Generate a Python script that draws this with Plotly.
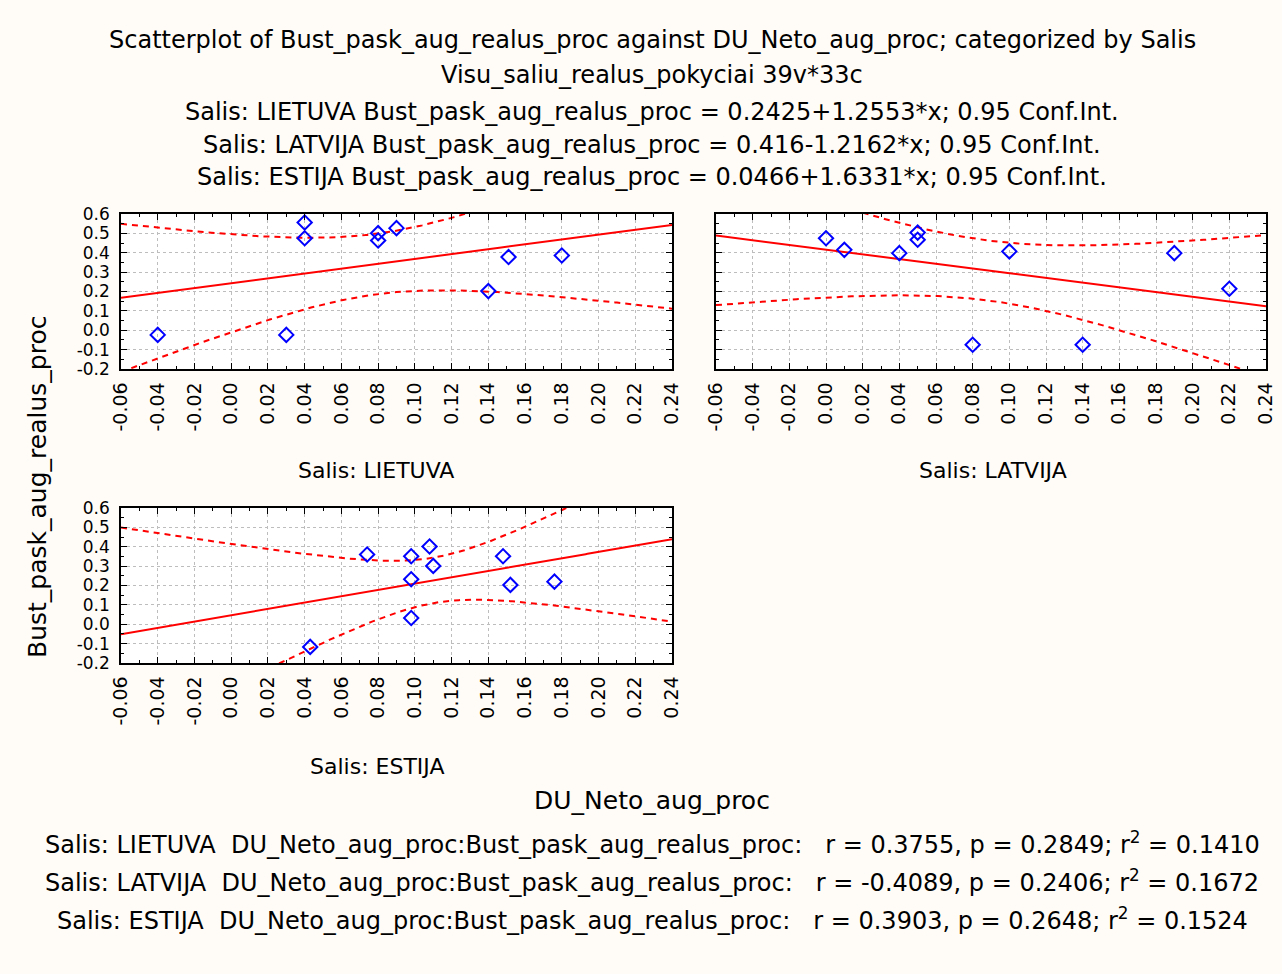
import numpy as np
import plotly.graph_objects as go

W, H = 1282, 974

# ---- data ----
countries = ["LIETUVA", "LATVIJA", "ESTIJA"]
lt_x = [-0.04, 0.03, 0.04, 0.04, 0.08, 0.08, 0.09, 0.14, 0.151, 0.18]
lt_y = [-0.024, -0.024, 0.556, 0.475, 0.501, 0.463, 0.527, 0.202, 0.378, 0.386]
lv_x = [0.00, 0.01, 0.04, 0.05, 0.05, 0.08, 0.10, 0.14, 0.19, 0.22]
lv_y = [0.475, 0.415, 0.398, 0.504, 0.467, -0.075, 0.407, -0.075, 0.398, 0.214]
ee_x = [0.043, 0.074, 0.098, 0.108, 0.110, 0.098, 0.098, 0.148, 0.152, 0.176]
ee_y = [-0.117, 0.360, 0.351, 0.401, 0.301, 0.232, 0.032, 0.351, 0.203, 0.220]
intercepts = [0.2425, 0.416, 0.0466]
slopes = [1.2553, -1.2162, 1.6331]
r_vals = ["0.3755", "-0.4089", "0.3903"]
p_vals = ["0.2849", "0.2406", "0.2648"]
r2_vals = ["0.1410", "0.1672", "0.1524"]
T_CRIT = 2.306  # t(0.975, df=8)

xs_all = [lt_x, lv_x, ee_x]
ys_all = [lt_y, lv_y, ee_y]

XR = [-0.06, 0.24]
YR = [-0.2, 0.6]
x_ticks = [round(-0.06 + 0.02 * i, 2) for i in range(16)]
y_ticks = [round(-0.2 + 0.1 * i, 1) for i in range(9)]

FONT = "DejaVu Sans"
BG = "#FFFCF7"

# panel pixel boxes (left, right, top, bottom)
boxes = [(121, 672, 214, 369), (716, 1266, 214, 369), (121, 672, 508, 663)]

fig = go.Figure()

for i in range(3):
    xs = np.array(xs_all[i]); ys = np.array(ys_all[i])
    a, b = intercepts[i], slopes[i]
    n = len(xs)
    resid = ys - (a + b * xs)
    s = np.sqrt(np.sum(resid ** 2) / (n - 2))
    xbar = xs.mean()
    sxx = np.sum((xs - xbar) ** 2)
    gx = np.linspace(XR[0], XR[1], 301)
    fit = a + b * gx
    hw = T_CRIT * s * np.sqrt(1.0 / n + (gx - xbar) ** 2 / sxx)
    xa = "x" if i == 0 else f"x{i+1}"
    ya = "y" if i == 0 else f"y{i+1}"
    fig.add_trace(go.Scatter(x=gx, y=fit, mode="lines", line=dict(color="#FF0000", width=2),
                             xaxis=xa, yaxis=ya, showlegend=False, hoverinfo="skip"))
    for band in (fit + hw, fit - hw):
        fig.add_trace(go.Scatter(x=gx, y=band, mode="lines",
                                 line=dict(color="#FF0000", width=2, dash="6px,5px"),
                                 xaxis=xa, yaxis=ya, showlegend=False, hoverinfo="skip"))
    fig.add_trace(go.Scatter(x=xs, y=ys, mode="markers",
                             marker=dict(symbol="diamond-open", size=11, color="#0000FF",
                                         line=dict(width=2, color="#0000FF")),
                             xaxis=xa, yaxis=ya, showlegend=False))

def xdom(l, r):
    return [l / W, r / W]

def ydom(t, b):
    return [1 - b / H, 1 - t / H]

axis_common = dict(showline=True, linecolor="black", linewidth=1.5, mirror="allticks",
                   ticks="inside", ticklen=6, tickcolor="black", tickwidth=1,
                   showgrid=True, gridcolor="#BDBDBD", griddash="dot", gridwidth=1,
                   zeroline=False, automargin=False)

layout_axes = {}
for i, (l, r, t, b) in enumerate(boxes):
    xk = "xaxis" if i == 0 else f"xaxis{i+1}"
    yk = "yaxis" if i == 0 else f"yaxis{i+1}"
    ya = "y" if i == 0 else f"y{i+1}"
    xa = "x" if i == 0 else f"x{i+1}"
    layout_axes[xk] = dict(axis_common, domain=xdom(l, r), range=XR, anchor=ya,
                           tickmode="array", tickvals=x_ticks,
                           ticktext=[f"{v:.2f}" for v in x_ticks], tickangle=-90,
                           tickfont=dict(family=FONT, size=19, color="black"),
                           ticklabelstandoff=4,
                           minor=dict(dtick=0.01, tick0=0, ticks="inside", ticklen=3,
                                      tickcolor="black", showgrid=False))
    layout_axes[yk] = dict(axis_common, domain=ydom(t, b), range=YR, anchor=xa,
                           tickmode="array", tickvals=y_ticks,
                           ticktext=[f"{v:.1f}" for v in y_ticks],
                           tickfont=dict(family=FONT, size=17, color="black"),
                           ticklabelstandoff=6,
                           showticklabels=(i != 1),
                           minor=dict(dtick=0.05, tick0=0, ticks="inside", ticklen=3,
                                      tickcolor="black", showgrid=False))

def ann(text, px, py, size=24, angle=0):
    return dict(text=text, x=px / W, y=1 - py / H, xref="paper", yref="paper",
                showarrow=False, xanchor="center", yanchor="middle", textangle=angle,
                font=dict(family=FONT, size=size, color="black"))

annotations = [
    ann("Scatterplot of Bust_pask_aug_realus_proc against DU_Neto_aug_proc; categorized by Salis", 652, 40),
    ann("Visu_saliu_realus_pokyciai 39v*33c", 652, 75),
]
title_rows = [112, 145, 177]
for i, c in enumerate(countries):
    a, b = intercepts[i], slopes[i]
    sign = "+" if b >= 0 else "-"
    annotations.append(ann(f"Salis: {c} Bust_pask_aug_realus_proc = {a:g}{sign}{abs(b):g}*x; 0.95 Conf.Int.",
                           652, title_rows[i]))

annotations += [
    ann("Salis: LIETUVA", 376, 470, size=22),
    ann("Salis: LATVIJA", 993, 470, size=22),
    ann("Salis: ESTIJA", 377, 766, size=22),
    ann("DU_Neto_aug_proc", 652, 800, size=25),
    ann("Bust_pask_aug_realus_proc", 37, 487, size=25, angle=-90),
]
nb = "\u00a0"
bottom_rows = [843, 881, 919]
for i, c in enumerate(countries):
    txt = (f"Salis: {c}{nb*2}DU_Neto_aug_proc:Bust_pask_aug_realus_proc:{nb*3}"
           f"r = {r_vals[i]}, p = {p_vals[i]}; r<sup>2</sup> = {r2_vals[i]}")
    annotations.append(ann(txt, 652, bottom_rows[i]))

fig.update_layout(width=W, height=H, margin=dict(l=0, r=0, t=0, b=0),
                  paper_bgcolor=BG, plot_bgcolor="white",
                  annotations=annotations, **layout_axes)

fig.write_html("out.html", config={"displayModeBar": False},
               post_script="document.body.style.margin='0';")
